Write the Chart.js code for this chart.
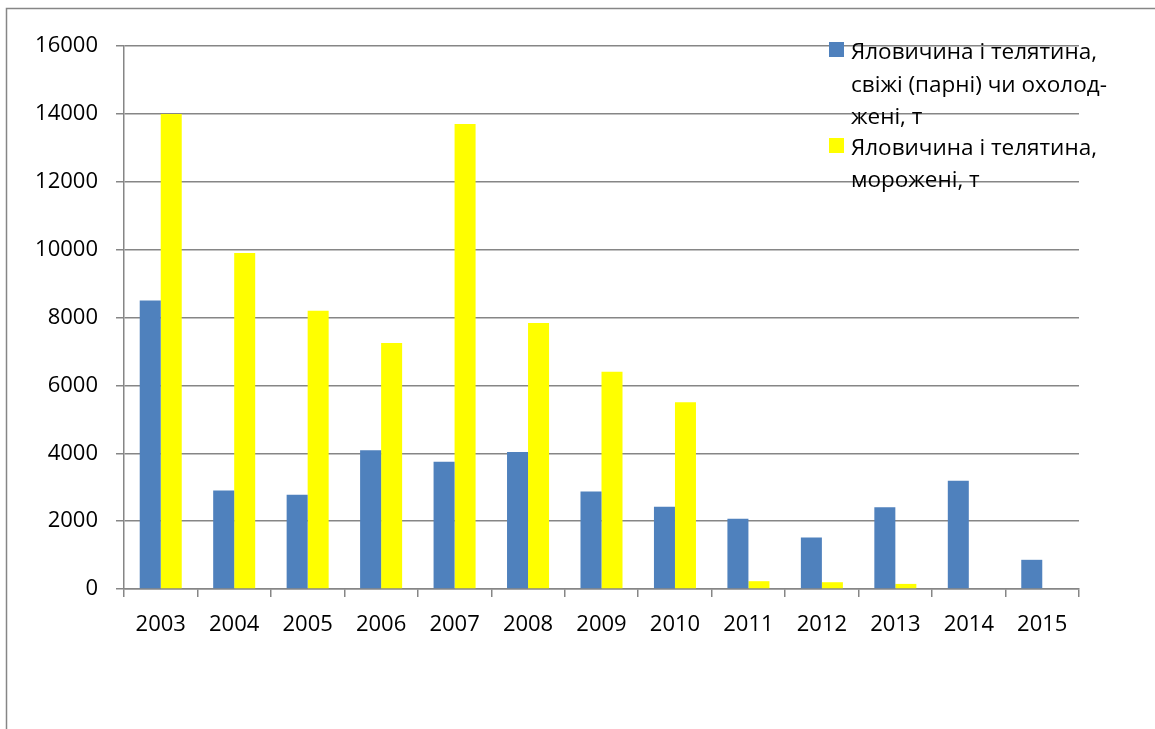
<!DOCTYPE html>
<html>
<head>
<meta charset="utf-8">
<script src="https://cdn.jsdelivr.net/npm/chart.js@4/dist/chart.umd.min.js"></script>
<style>
  html, body { margin: 0; padding: 0; background: #fff; }
  #wrap { width: 1155px; height: 729px; }
</style>
</head>
<body>
<div id="wrap"><canvas id="chart" width="1155" height="729"></canvas></div>
<script>
// дані з діаграми
const YEARS = ['2003', '2004', '2005', '2006', '2007', '2008', '2009', '2010', '2011', '2012', '2013', '2014', '2015'];
const FRESH = [8500, 2900, 2780, 4090, 3750, 4040, 2870, 2420, 2070, 1520, 2410, 3190, 860];
const FROZEN = [14000, 9900, 8200, 7250, 13700, 7840, 6400, 5500, 230, 200, 150, 0, 0];
const FRESH_LABEL = ['Яловичина і телятина,', 'свіжі (парні) чи охолод-', 'жені, т'];
const FROZEN_LABEL = ['Яловичина і телятина,', 'морожені, т'];

const BLUE = '#4F81BD';
const YELLOW = '#FFFF00';
const GRID = '#868686';
const FONT = '"Open Sans", "DejaVu Sans", sans-serif';

// рамка області діаграми (ліва і верхня межа)
const framePlugin = {
  id: 'frame',
  beforeDraw(chart) {
    const ctx = chart.ctx;
    ctx.save();
    ctx.fillStyle = '#fff';
    ctx.fillRect(0, 0, chart.width, chart.height);
    ctx.strokeStyle = GRID;
    ctx.lineWidth = 1.5;
    ctx.beginPath();
    ctx.moveTo(6.5, chart.height);
    ctx.lineTo(6.5, 8.5);
    ctx.lineTo(chart.width, 8.5);
    ctx.stroke();
    ctx.restore();
  }
};

// легенда з переносом рядків, як в оригіналі
const legendPlugin = {
  id: 'wrapLegend',
  afterDraw(chart) {
    const ctx = chart.ctx;
    const baselines = [[59, 91.5, 124], [155, 187]];
    ctx.save();
    ctx.font = '22.5px ' + FONT;
    ctx.textBaseline = 'alphabetic';
    ctx.textAlign = 'left';
    chart.data.datasets.forEach((ds, i) => {
      const lines = ds.label;
      const b = baselines[i];
      ctx.fillStyle = ds.backgroundColor;
      ctx.fillRect(829, b[0] - 17, 15, 15);
      ctx.fillStyle = '#000';
      lines.forEach((t, j) => ctx.fillText(t, 851, b[j]));
    });
    ctx.restore();
  }
};

new Chart(document.getElementById('chart'), {
  type: 'bar',
  data: {
    labels: YEARS,
    datasets: [
      { label: FRESH_LABEL, data: FRESH, backgroundColor: BLUE, borderWidth: 0 },
      { label: FROZEN_LABEL, data: FROZEN, backgroundColor: YELLOW, borderWidth: 0 }
    ]
  },
  options: {
    responsive: false,
    animation: false,
    devicePixelRatio: 1,
    layout: { padding: { left: 0, top: 46, right: 76, bottom: 0 } },
    datasets: { bar: { categoryPercentage: 0.572, barPercentage: 1 } },
    plugins: {
      legend: { display: false },
      tooltip: { enabled: false }
    },
    scales: {
      x: {
        grid: { drawOnChartArea: false, color: GRID, lineWidth: 1.5, tickLength: 8, offset: true },
        border: { color: GRID, width: 1.5 },
        ticks: { color: '#000', font: { family: FONT, size: 22 }, padding: 15, maxRotation: 0 },
        afterFit: (s) => { s.height = 140; }
      },
      y: {
        min: 0,
        max: 16000,
        ticks: { stepSize: 2000, color: '#000', font: { family: FONT, size: 22 }, padding: 18, callback: (v) => String(v) },
        grid: { color: GRID, lineWidth: 1.5, tickLength: 8 },
        border: { color: GRID, width: 1.5 },
        afterFit: (s) => { s.width = 124; }
      }
    }
  },
  plugins: [framePlugin, legendPlugin]
});
</script>
</body>
</html>
